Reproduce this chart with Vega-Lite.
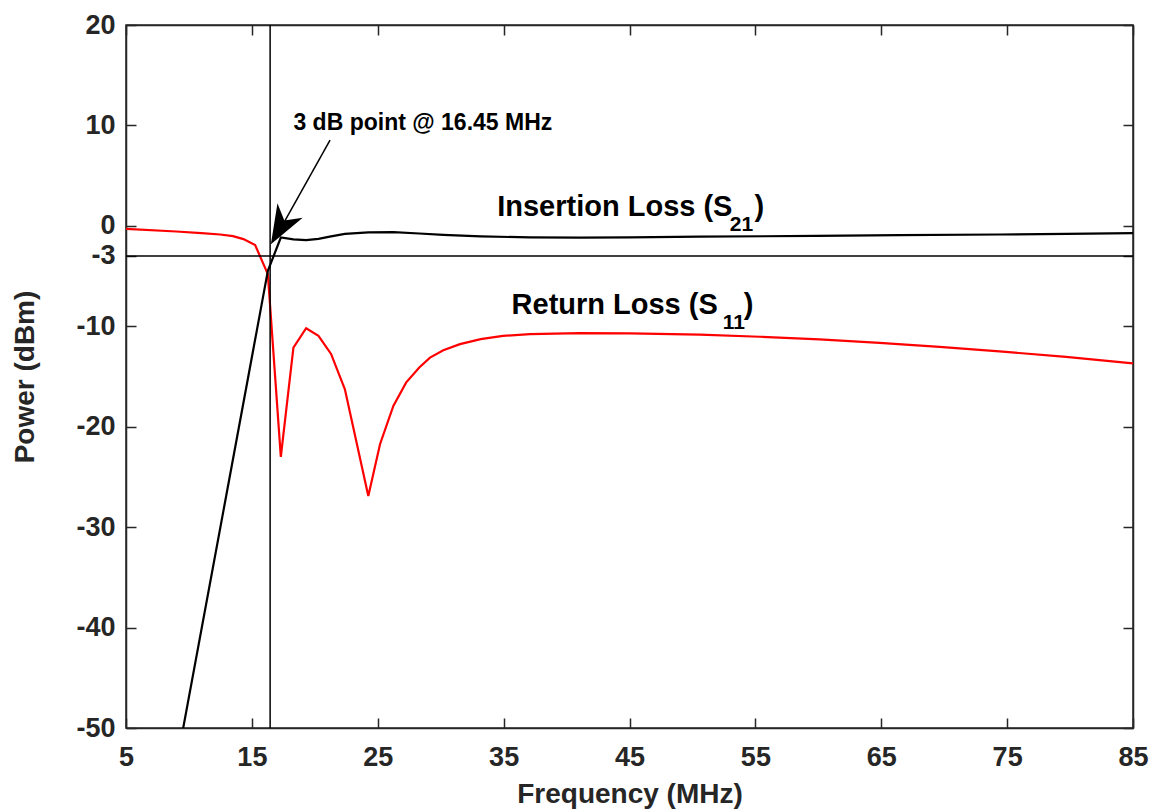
{
  "$schema": "https://vega.github.io/schema/vega-lite/v6.json",
  "width": 1007,
  "height": 703,
  "autosize": {"type": "none"},
  "padding": {"left": 126, "top": 25, "right": 19, "bottom": 82},
  "background": "white",
  "config": {
    "view": {"stroke": "#262626", "strokeWidth": 1.5},
    "font": "Liberation Sans",
    "axis": {
      "grid": false,
      "labelFlush": false,
      "labelOverlap": false,
      "domainColor": "#262626",
      "domainWidth": 1.5,
      "tickColor": "#262626",
      "tickWidth": 1.5,
      "tickSize": -10,
      "labelFont": "Liberation Sans",
      "labelFontWeight": "bold",
      "labelFontSize": 27,
      "labelColor": "#262626",
      "labelExpr": "toString(datum.value)",
      "titleFont": "Liberation Sans",
      "titleFontWeight": "bold",
      "titleFontSize": 28,
      "titleColor": "#262626"
    }
  },
  "datasets": {
    "s11": [
      {"f": 5, "db": -0.3}, {"f": 9, "db": -0.56}, {"f": 11, "db": -0.72},
      {"f": 12.48, "db": -0.86}, {"f": 13.5, "db": -1.02},
      {"f": 14.33, "db": -1.32}, {"f": 15.26, "db": -1.92}, {"f": 16.27, "db": -4.81},
      {"f": 17.3, "db": -23.0}, {"f": 18.3, "db": -12.12}, {"f": 19.31, "db": -10.19},
      {"f": 20.29, "db": -10.96}, {"f": 21.29, "db": -12.75}, {"f": 22.39, "db": -16.27},
      {"f": 24.25, "db": -26.89}, {"f": 25.18, "db": -21.74}, {"f": 26.24, "db": -17.93},
      {"f": 27.25, "db": -15.61}, {"f": 28.3, "db": -14.11}, {"f": 29.15, "db": -13.12},
      {"f": 30.21, "db": -12.38}, {"f": 31.53, "db": -11.78}, {"f": 33.18, "db": -11.28},
      {"f": 34.94, "db": -10.96}, {"f": 37.08, "db": -10.79}, {"f": 41.05, "db": -10.69},
      {"f": 45.02, "db": -10.71}, {"f": 50.58, "db": -10.84}, {"f": 55.34, "db": -11.04},
      {"f": 60.1, "db": -11.31}, {"f": 64.86, "db": -11.65}, {"f": 69.63, "db": -12.05},
      {"f": 74.39, "db": -12.5}, {"f": 79.68, "db": -13.05}, {"f": 85, "db": -13.7}
    ],
    "s21": [
      {"f": 5, "db": -80.75}, {"f": 16.27, "db": -4.48}, {"f": 17.3, "db": -1.16},
      {"f": 18.3, "db": -1.35}, {"f": 19.31, "db": -1.42}, {"f": 20.29, "db": -1.3},
      {"f": 21.29, "db": -1.05}, {"f": 22.39, "db": -0.8}, {"f": 24.25, "db": -0.64},
      {"f": 26.24, "db": -0.62}, {"f": 28.3, "db": -0.76}, {"f": 30.21, "db": -0.9},
      {"f": 33.18, "db": -1.05}, {"f": 37.08, "db": -1.15}, {"f": 41.05, "db": -1.17},
      {"f": 45.02, "db": -1.14}, {"f": 50.58, "db": -1.08}, {"f": 59.84, "db": -1.0},
      {"f": 66.45, "db": -0.93}, {"f": 74.38, "db": -0.86}, {"f": 79.68, "db": -0.8},
      {"f": 85, "db": -0.72}
    ]
  },
  "resolve": {"axis": {"x": "independent", "y": "independent"}},
  "layer": [
    {
      "data": {"name": "s11"},
      "mark": {"type": "line", "color": "#ff0000", "strokeWidth": 2.2, "clip": true},
      "encoding": {
        "x": {
          "field": "f", "type": "quantitative",
          "scale": {"domain": [5, 85], "nice": false, "zero": false},
          "axis": {"orient": "bottom", "values": [5, 15, 25, 35, 45, 55, 65, 75, 85], "title": "Frequency (MHz)", "labelPadding": 26, "titlePadding": 10}
        },
        "y": {
          "field": "db", "type": "quantitative",
          "scale": {"domain": [-50, 20], "nice": false, "zero": false},
          "axis": {"orient": "left", "values": [-50, -40, -30, -20, -10, -3, 0, 10, 20], "title": "Power (dBm)", "labelPadding": 21, "titlePadding": 36}
        }
      }
    },
    {
      "data": {"name": "s21"},
      "mark": {"type": "line", "color": "#000000", "strokeWidth": 2.2, "clip": true},
      "encoding": {
        "x": {"field": "f", "type": "quantitative", "scale": {"domain": [5, 85], "nice": false, "zero": false}, "axis": null},
        "y": {"field": "db", "type": "quantitative", "scale": {"domain": [-50, 20], "nice": false, "zero": false}, "axis": null}
      }
    },
    {
      "data": {"values": [{"f": 16.45}]},
      "mark": {"type": "rule", "color": "#000000", "strokeWidth": 1.5},
      "encoding": {
        "x": {"field": "f", "type": "quantitative", "scale": {"domain": [5, 85], "nice": false, "zero": false}, "axis": null}
      }
    },
    {
      "data": {"values": [{"db": -3}]},
      "mark": {"type": "rule", "color": "#000000", "strokeWidth": 1.5},
      "encoding": {
        "y": {"field": "db", "type": "quantitative", "scale": {"domain": [-50, 20], "nice": false, "zero": false}, "axis": null}
      }
    },
    {
      "data": {"values": [{"f": 21.21, "db": 8.54, "f2": 17.0, "db2": -0.9}]},
      "mark": {"type": "rule", "color": "#000000", "strokeWidth": 1.5},
      "encoding": {
        "x": {"field": "f", "type": "quantitative", "scale": {"domain": [5, 85], "nice": false, "zero": false}, "axis": null},
        "y": {"field": "db", "type": "quantitative", "scale": {"domain": [-50, 20], "nice": false, "zero": false}, "axis": null},
        "x2": {"field": "f2"},
        "y2": {"field": "db2"}
      }
    },
    {
      "data": {"values": [{"f": 16.51, "db": -1.82}]},
      "mark": {"type": "point", "shape": "M0,0L-0.75,2L0,1.4L0.75,2Z", "size": 1500, "angle": 209.7, "filled": true, "color": "#000000", "opacity": 1, "strokeWidth": 0},
      "encoding": {
        "x": {"field": "f", "type": "quantitative", "scale": {"domain": [5, 85], "nice": false, "zero": false}, "axis": null},
        "y": {"field": "db", "type": "quantitative", "scale": {"domain": [-50, 20], "nice": false, "zero": false}, "axis": null}
      }
    },
    {
      "data": {"values": [{"f": 18.3, "db": 9.53, "label": "3 dB point @ 16.45 MHz"}]},
      "mark": {"type": "text", "align": "left", "baseline": "alphabetic", "font": "Liberation Sans", "fontWeight": "bold", "fontSize": 23, "color": "#000000"},
      "encoding": {
        "x": {"field": "f", "type": "quantitative", "scale": {"domain": [5, 85], "nice": false, "zero": false}, "axis": null},
        "y": {"field": "db", "type": "quantitative", "scale": {"domain": [-50, 20], "nice": false, "zero": false}, "axis": null},
        "text": {"field": "label"}
      }
    },
    {
      "data": {"values": [
        {"f": 34.49, "db": 1.0, "label": "Insertion Loss (S"},
        {"f": 54.94, "db": 1.0, "label": ")"},
        {"f": 35.63, "db": -8.8, "label": "Return Loss (S"},
        {"f": 54.07, "db": -8.8, "label": ")"}
      ]},
      "mark": {"type": "text", "align": "left", "baseline": "alphabetic", "font": "Liberation Sans", "fontWeight": "bold", "fontSize": 29, "color": "#000000"},
      "encoding": {
        "x": {"field": "f", "type": "quantitative", "scale": {"domain": [5, 85], "nice": false, "zero": false}, "axis": null},
        "y": {"field": "db", "type": "quantitative", "scale": {"domain": [-50, 20], "nice": false, "zero": false}, "axis": null},
        "text": {"field": "label"}
      }
    },
    {
      "data": {"values": [
        {"f": 52.97, "db": -0.5, "label": "21"},
        {"f": 52.4, "db": -10.3, "label": "11"}
      ]},
      "mark": {"type": "text", "align": "left", "baseline": "alphabetic", "font": "Liberation Sans", "fontWeight": "bold", "fontSize": 21, "color": "#000000"},
      "encoding": {
        "x": {"field": "f", "type": "quantitative", "scale": {"domain": [5, 85], "nice": false, "zero": false}, "axis": null},
        "y": {"field": "db", "type": "quantitative", "scale": {"domain": [-50, 20], "nice": false, "zero": false}, "axis": null},
        "text": {"field": "label"}
      }
    },
    {
      "data": {"name": "s11"},
      "mark": {"type": "point", "opacity": 0},
      "encoding": {
        "x": {
          "field": "f", "type": "quantitative",
          "scale": {"domain": [5, 85], "nice": false, "zero": false},
          "axis": {"orient": "top", "values": [5, 15, 25, 35, 45, 55, 65, 75, 85], "labels": false, "title": null}
        },
        "y": {
          "field": "db", "type": "quantitative",
          "scale": {"domain": [-50, 20], "nice": false, "zero": false},
          "axis": {"orient": "right", "values": [-50, -40, -30, -20, -10, -3, 0, 10, 20], "labels": false, "title": null}
        }
      }
    }
  ]
}
